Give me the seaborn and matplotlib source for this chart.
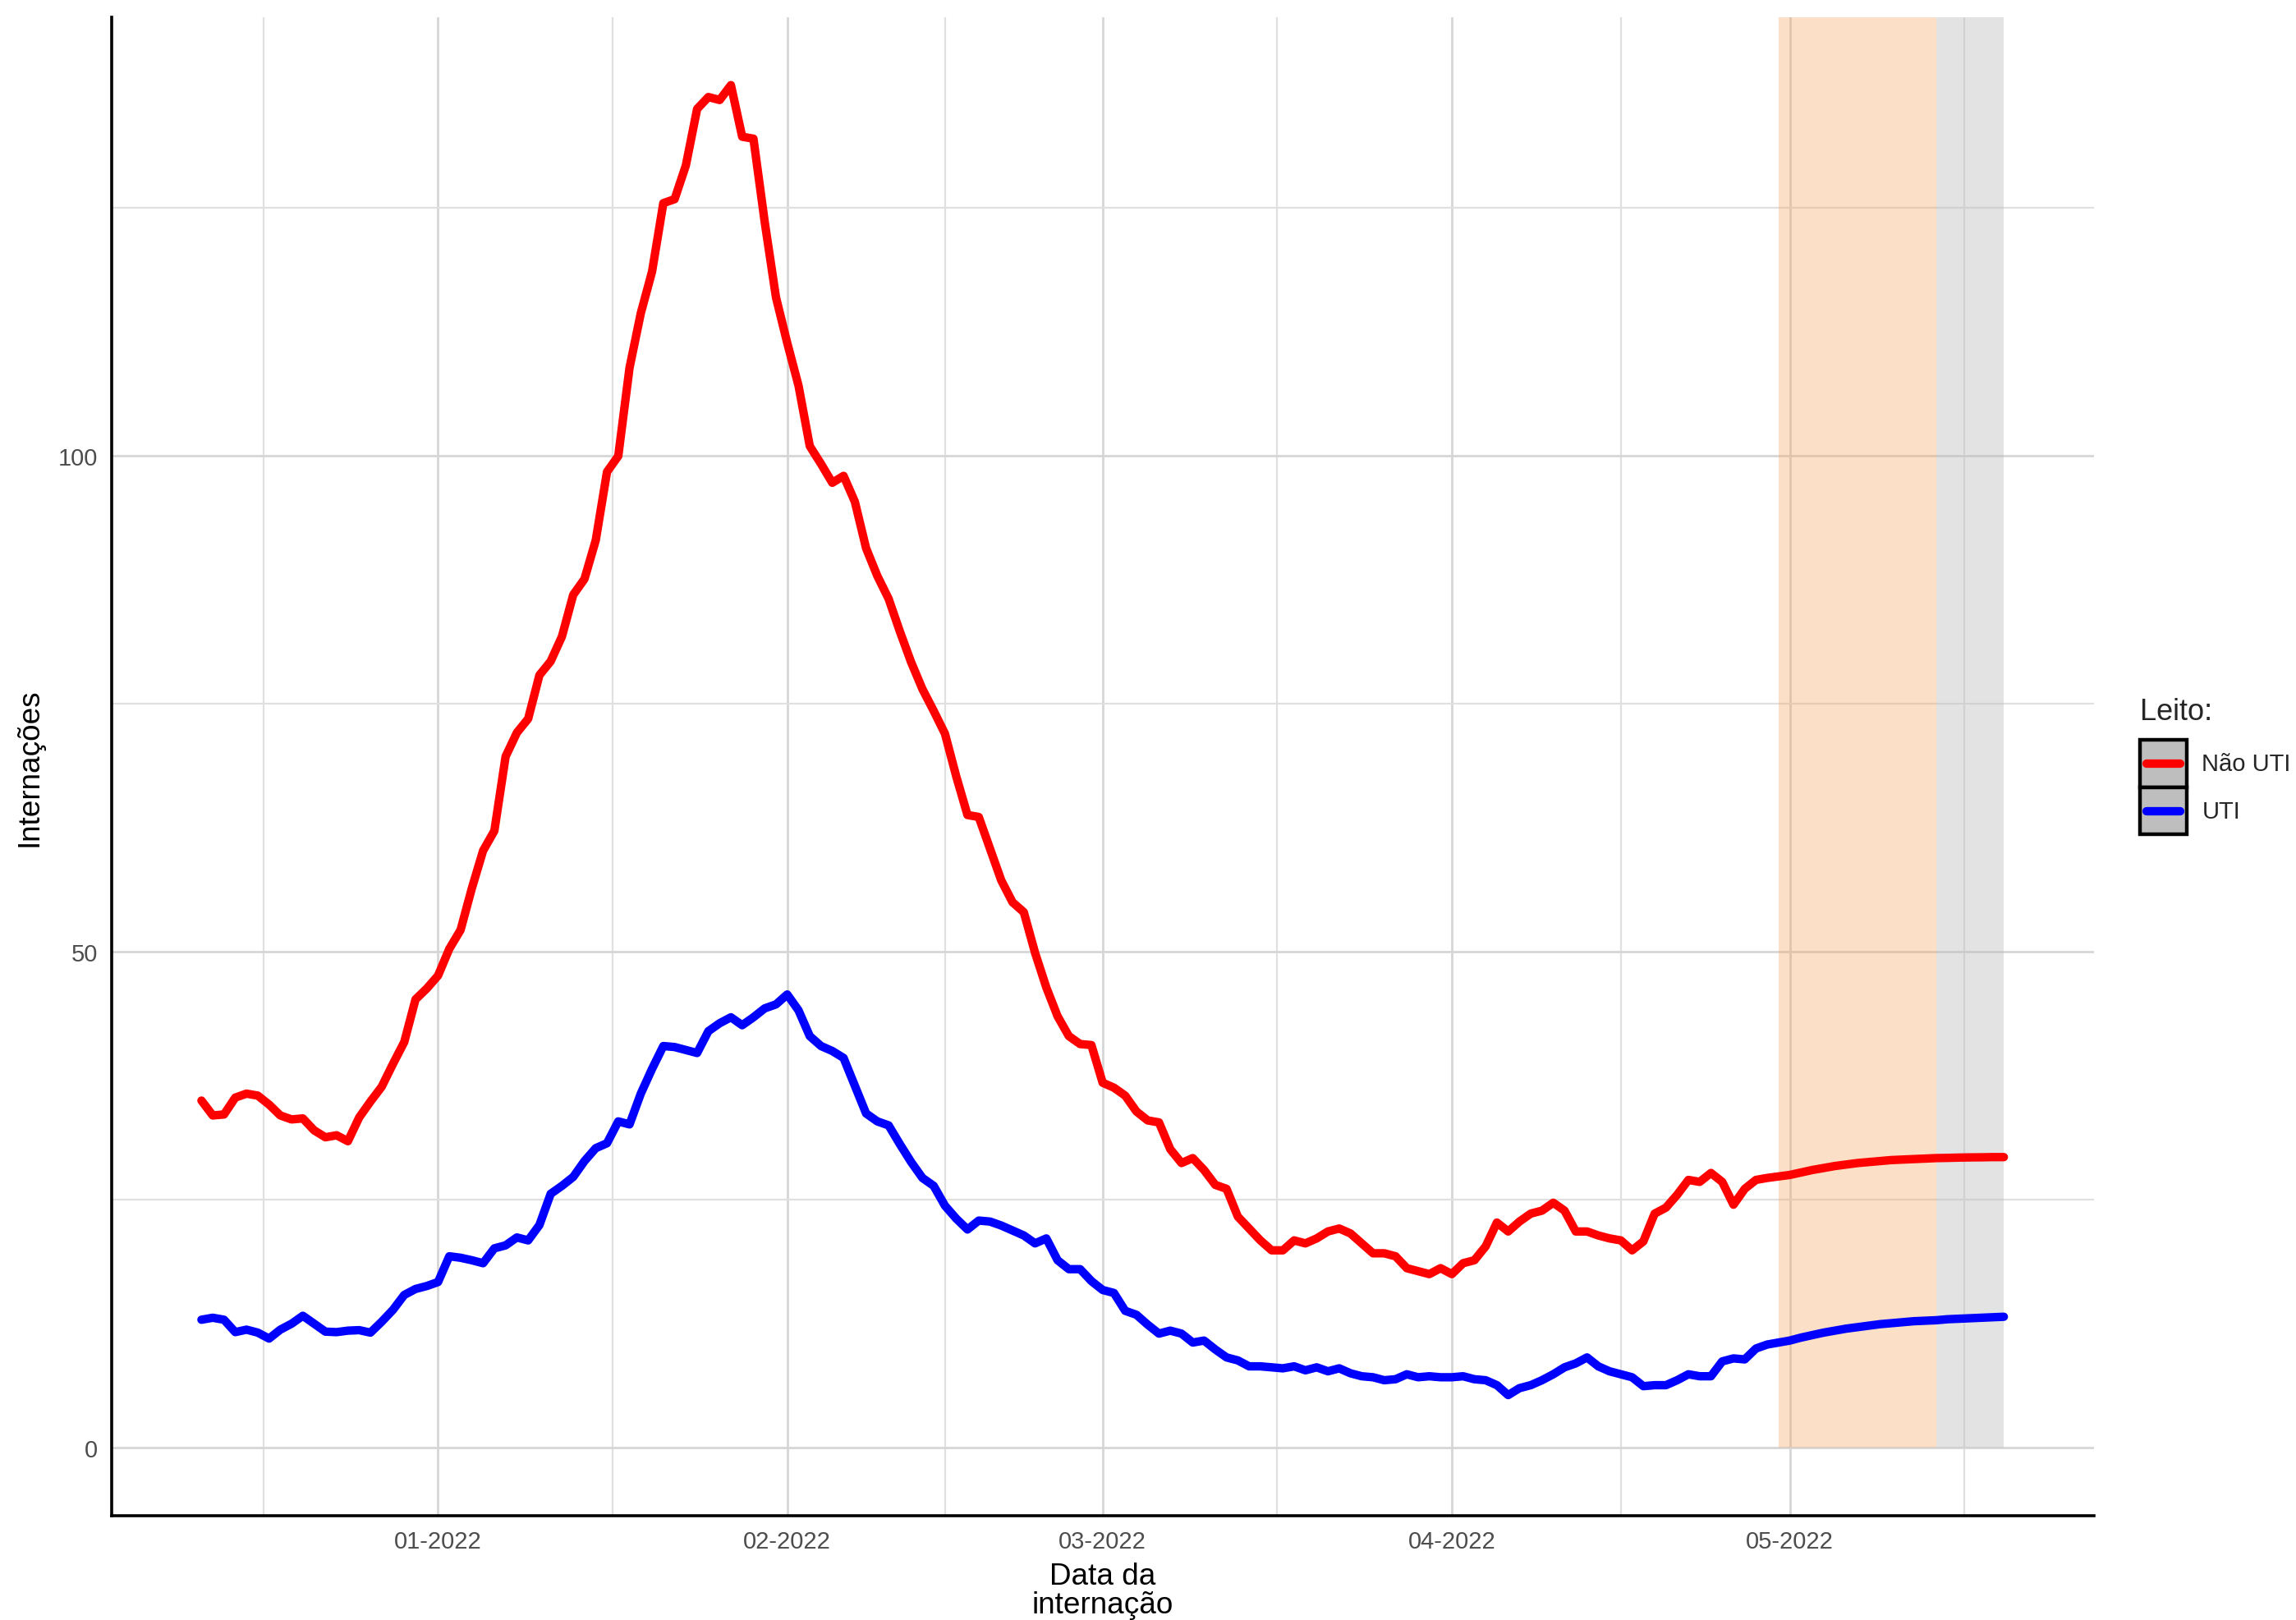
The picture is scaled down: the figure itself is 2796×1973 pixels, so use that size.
import numpy as np
import pandas as pd
import matplotlib
matplotlib.use("Agg")
import matplotlib.pyplot as plt
import matplotlib.dates as mdates
from matplotlib.lines import Line2D
from matplotlib.patches import Rectangle
from matplotlib.legend_handler import HandlerLine2D
import seaborn as sns

# Dados diários (média móvel) a partir de 11/12/2021
inicio = "2021-12-11"

nao_uti = [
    35.0, 33.5, 33.6, 35.3, 35.7, 35.5, 34.6, 33.5, 33.1, 33.2, 32.0, 31.3, 31.5, 30.9,
    33.3, 34.9, 36.4, 38.7, 40.9, 45.2, 46.3,
    47.6, 50.3, 52.2, 56.4, 60.2, 62.2, 69.7, 72.1, 73.5, 77.9, 79.3, 81.8, 86.0, 87.6,
    91.5, 98.4, 100.0, 108.9, 114.4, 118.6, 125.5, 125.9, 129.3,
    135.0, 136.2, 135.9, 137.4,
    132.2, 132.0, 123.6, 116.0, 111.4, 107.1, 101.0, 99.2, 97.3, 98.0, 95.4, 90.7, 87.9,
    85.6, 82.3, 79.2, 76.5, 74.3, 72.0, 67.7,
    63.8, 63.6, 60.4, 57.2, 55.0, 54.0, 49.9, 46.4, 43.5, 41.5, 40.7, 40.6, 36.8, 36.3,
    35.5, 33.9, 33.0, 32.8, 30.1,
    28.7, 29.2, 28.0, 26.5, 26.1, 23.3, 22.1, 20.9, 19.9, 19.9, 20.9, 20.6, 21.1, 21.8,
    22.1, 21.6, 20.6, 19.6, 19.6, 19.3, 18.1, 17.8, 17.5, 18.1, 17.5, 18.6, 18.9, 20.3,
    22.7, 21.8, 22.8, 23.6, 23.9, 24.7, 23.9, 21.8, 21.8, 21.4, 21.1, 20.9, 19.9, 20.8,
    23.6, 24.2, 25.5, 27.0, 26.8, 27.7, 26.8, 24.5, 26.1, 27.0,
    27.2, 27.35, 27.5, 27.75, 28.0, 28.2, 28.4, 28.55, 28.7, 28.8, 28.9, 29.0, 29.05,
    29.1, 29.15, 29.2, 29.22, 29.25, 29.27, 29.28, 29.3, 29.3,
]

uti = [
    12.9, 13.1, 12.9, 11.65, 11.9, 11.6, 11.0, 11.9, 12.5, 13.3, 12.5, 11.7, 11.65, 11.8,
    11.85, 11.6, 12.7, 13.9, 15.4, 16.0, 16.3, 16.7,
    19.3, 19.15, 18.9, 18.6, 20.1, 20.4, 21.2, 20.9, 22.45, 25.6, 26.4, 27.3, 28.9, 30.2,
    30.7, 32.9, 32.6, 35.7, 38.2, 40.5, 40.4, 40.1, 39.8, 42.0, 42.8, 43.4,
    42.6, 43.4, 44.3, 44.7, 45.7, 44.1, 41.5, 40.5, 40.0, 39.3, 36.5, 33.7, 32.9, 32.5,
    30.6, 28.8, 27.2, 26.4, 24.4, 23.1, 22.0, 22.9,
    22.8, 22.4, 21.9, 21.4, 20.6, 21.1, 18.9, 18.0, 18.0, 16.8, 15.9, 15.6, 13.8, 13.4,
    12.4, 11.5, 11.8, 11.5, 10.6, 10.8, 9.9, 9.1, 8.8, 8.2, 8.2, 8.1, 8.0, 8.2, 7.8, 8.1,
    7.7, 8.0, 7.5, 7.2, 7.1, 6.8, 6.9, 7.4, 7.1, 7.2, 7.1,
    7.1, 7.2, 6.9, 6.8, 6.3, 5.3, 6.0, 6.3, 6.8, 7.4, 8.1, 8.5, 9.1, 8.2, 7.7, 7.4, 7.1,
    6.2, 6.3, 6.3, 6.8, 7.4, 7.2, 7.2, 8.7, 9.0, 8.9, 10.0,
    10.4, 10.6, 10.8, 11.1, 11.35, 11.6, 11.8, 12.0, 12.15, 12.3, 12.45, 12.55, 12.65,
    12.75, 12.8, 12.85, 12.95, 13.0, 13.05, 13.1, 13.15, 13.2,
]

# faixas de previsão (nowcasting)
faixa_laranja = ("2022-04-30", "2022-05-14")
faixa_cinza = ("2022-05-14", "2022-05-20")

meses = ["2022-01-01", "2022-02-01", "2022-03-01", "2022-04-01", "2022-05-01"]
y_ticks = [0, 50, 100]
y_minor = [25, 75, 125]

cores = {"Não UTI": "#ff0000", "UTI": "#0000ff"}

datas = pd.date_range(inicio, periods=len(nao_uti), freq="D")
df = pd.DataFrame({
    "data": list(datas) + list(datas),
    "valor": nao_uti + uti,
    "Leito": ["Não UTI"] * len(nao_uti) + ["UTI"] * len(uti),
})

sns.set_theme(style="white")
plt.rcParams['font.family'] = ['Liberation Sans', 'DejaVu Sans']

fig, ax = plt.subplots(figsize=(13.98, 9.87), dpi=200)
fig.subplots_adjust(left=0.0485, right=0.912, top=0.989, bottom=0.0643)

# limites no estilo ggplot (expansão de 5%)
ymax = max(nao_uti)
ypad = 0.05 * ymax
ax.set_ylim(-ypad, ymax + ypad)
x0, x1 = datas[0], datas[-1]
xpad = (x1 - x0) * 0.05
ax.set_xlim(x0 - xpad, x1 + xpad)

# faixas sombreadas
top = ymax + ypad
ax.fill_between(pd.to_datetime(list(faixa_laranja)), 0, top, color="#f4a460", alpha=0.35, lw=0, zorder=1)
ax.fill_between(pd.to_datetime(list(faixa_cinza)), 0, top, color="#bdbdbd", alpha=0.42, lw=0, zorder=1)

sns.lineplot(data=df, x="data", y="valor", hue="Leito", palette=cores,
             linewidth=3.7, legend=False, ax=ax, zorder=3)

# grades
bordas = pd.date_range("2021-12-01", "2022-06-01", freq="MS")
meios = bordas[:-1] + (bordas[1:] - bordas[:-1]) / 2
ax.set_xticks(pd.to_datetime(meses))
ax.set_xticks(meios, minor=True)
ax.xaxis.set_major_formatter(mdates.DateFormatter("%m-%Y"))
ax.set_yticks(y_ticks)
ax.set_yticks(y_minor, minor=True)
ax.set_axisbelow(True)
ax.grid(which="major", color="#d6d6d6", linewidth=1.0)
ax.grid(which="minor", color="#e0e0e0", linewidth=0.8)
ax.tick_params(which="both", length=0, labelsize=10.5, labelcolor="#4d4d4d")
ax.tick_params(axis="x", pad=6)
ax.tick_params(axis="y", pad=6)

for s in ["top", "right"]:
    ax.spines[s].set_visible(False)
for s in ["left", "bottom"]:
    ax.spines[s].set_color("black")
    ax.spines[s].set_linewidth(1.3)

ax.set_xlabel("Data da\ninternação", fontsize=13.3, color="black", labelpad=4, linespacing=1.0)
ax.set_ylabel("Internações", fontsize=13.3, color="black", labelpad=6)


class ChaveLeito(HandlerLine2D):
    def create_artists(self, legend, orig_handle, xdescent, ydescent, width, height, fontsize, trans):
        caixa = Rectangle((-xdescent, -ydescent), width, height, facecolor="#bebebe",
                          edgecolor="black", linewidth=1.6, transform=trans)
        yc = -ydescent + height / 2
        traco = Line2D([-xdescent + 0.14 * width, -xdescent + 0.86 * width], [yc, yc],
                       color=orig_handle.get_color(), linewidth=3.7, transform=trans)
        return [caixa, traco]


handles = [Line2D([0], [0], color=cores[k]) for k in cores]
leg = fig.legend(handles, list(cores), title="Leito:", loc="center left",
                 bbox_to_anchor=(0.927, 0.527), frameon=False, fontsize=10.5,
                 title_fontsize=13, handlelength=1.95, handleheight=2.68,
                 handletextpad=0.62, labelspacing=0, borderpad=0, alignment="left",
                 handler_map={Line2D: ChaveLeito()})
leg._legend_box.sep = 6

fig.savefig("out.png", dpi=200)
